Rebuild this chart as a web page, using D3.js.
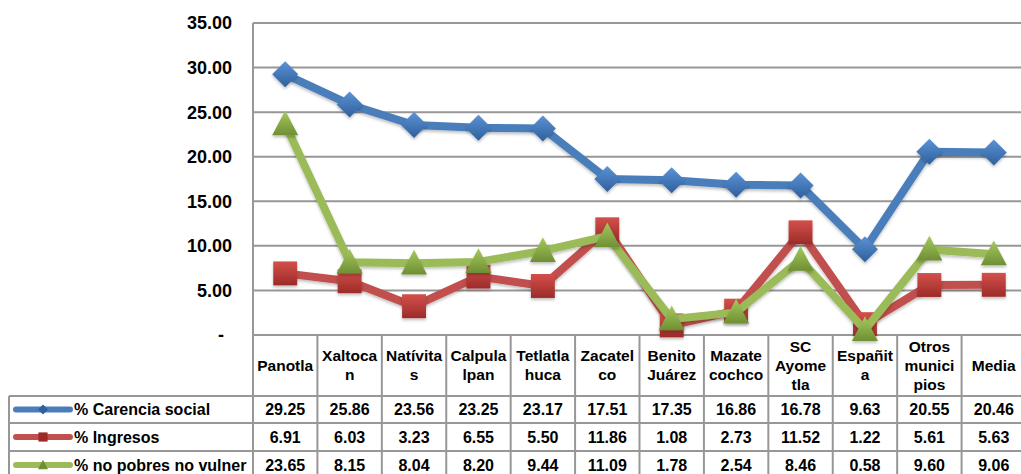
<!DOCTYPE html>
<html>
<head>
<meta charset="utf-8">
<script src="https://cdn.jsdelivr.net/npm/d3@7"></script>
<style>
  body { margin: 0; background: #fff; }
  svg text { font-family: "Liberation Sans", Arial, sans-serif; font-weight: bold; fill: #000; }
</style>
</head>
<body>
<svg width="1021" height="474"></svg>
<script>
// Data
const categories = ["Panotla", "Xaltocan", "Natívitas", "Calpulalpan", "Tetlatlahuca", "Zacatelco",
  "Benito Juárez", "Mazatecochco", "SC Ayometla", "Españita", "Otros municipios", "Media"];
// header lines as they wrap in the table
const categoryLines = [["Panotla"], ["Xaltoca", "n"], ["Natívita", "s"], ["Calpula", "lpan"],
  ["Tetlatla", "huca"], ["Zacatel", "co"], ["Benito", "Juárez"], ["Mazate", "cochco"],
  ["SC", "Ayome", "tla"], ["Españit", "a"], ["Otros", "munici", "pios"], ["Media"]];
const seriesNames = ["% Carencia social", "% Ingresos", "% no pobres no vulner"];
const carencia = [29.25, 25.86, 23.56, 23.25, 23.17, 17.51, 17.35, 16.86, 16.78, 9.63, 20.55, 20.46];
const ingresos = [6.91, 6.03, 3.23, 6.55, 5.50, 11.86, 1.08, 2.73, 11.52, 1.22, 5.61, 5.63];
const noPobres = [23.65, 8.15, 8.04, 8.20, 9.44, 11.09, 1.78, 2.54, 8.46, 0.58, 9.60, 9.06];
const yTicks = [0, 5, 10, 15, 20, 25, 30, 35];

const series = [
  { name: seriesNames[0], values: carencia, color: "#4a7ebb", light: "#5b93d6", dark: "#2f5f9c", shape: "diamond" },
  { name: seriesNames[1], values: ingresos, color: "#c0504d", light: "#d4504c", dark: "#9c2b28", shape: "square" },
  { name: seriesNames[2], values: noPobres, color: "#9bbb59", light: "#a6c95f", dark: "#6f8f33", shape: "triangle" }
];

const svg = d3.select("svg");
const defs = svg.append("defs");

// plot geometry
const plotLeft = 253, plotRight = 1026, plotTop = 23, plotBottom = 335;
const headerBottom = 396;
const rowEdges = [396, 423, 451, 479];

const x = d3.scaleBand().domain(categories).range([plotLeft, plotRight]).padding(0);
const y = d3.scaleLinear().domain([0, 35]).range([plotBottom, plotTop]);

const gridColor = "#979797";

// gridlines
svg.append("g")
  .selectAll("line")
  .data(yTicks)
  .join("line")
  .attr("x1", plotLeft).attr("x2", plotRight)
  .attr("y1", d => y(d)).attr("y2", d => y(d))
  .style("stroke", gridColor)
  .style("stroke-width", 2);

// y labels
svg.append("g")
  .selectAll("text")
  .data(yTicks)
  .join("text")
  .attr("x", d => d === 0 ? 224 : 232)
  .attr("y", d => y(d))
  .attr("dy", "0.36em")
  .attr("text-anchor", "end")
  .style("font-size", "18px")
  .text(d => d === 0 ? "-" : d3.format(".2f")(d));

// table lines
const table = svg.append("g").style("stroke", gridColor).style("stroke-width", 2);
// vertical column borders (from plot top through header and rows)
const colEdges = categories.map(c => x(c)).concat([plotRight]);
table.selectAll("line.col")
  .data(colEdges)
  .join("line")
  .attr("class", "col")
  .attr("x1", d => d).attr("x2", d => d)
  .attr("y1", (d, i) => i === 0 ? plotTop : plotBottom)
  .attr("y2", 480);
// horizontal row borders
table.selectAll("line.row")
  .data(rowEdges)
  .join("line")
  .attr("class", "row")
  .attr("x1", 9).attr("x2", plotRight)
  .attr("y1", d => d).attr("y2", d => d);
table.append("line")
  .attr("x1", 9).attr("x2", 9)
  .attr("y1", headerBottom).attr("y2", 480);

// header labels
const header = svg.append("g")
  .selectAll("text")
  .data(categories)
  .join("text")
  .attr("text-anchor", "middle")
  .style("font-size", "15.5px");
header.each(function(d, i) {
  const lines = categoryLines[i];
  const lh = 19;
  const cy = 365 - (lines.length - 1) * lh / 2;
  d3.select(this).selectAll("tspan")
    .data(lines)
    .join("tspan")
    .attr("x", x(d) + x.bandwidth() / 2)
    .attr("y", (l, j) => cy + j * lh)
    .attr("dy", "0.36em")
    .text(l => l);
});

// marker shapes
function markerPath(shape, s) {
  if (shape === "diamond") return `M0,${-s}L${s},0L0,${s}L${-s},0Z`;
  if (shape === "square") return `M${-s * 0.92},${-s * 0.92}H${s * 0.92}V${s * 0.92}H${-s * 0.92}Z`;
  return `M0,${-s * 1.05}L${s},${s * 0.85}H${-s}Z`;
}

series.forEach((s, k) => {
  const g = defs.append("linearGradient")
    .attr("id", "grad" + k)
    .attr("x1", 0).attr("y1", 0).attr("x2", 0).attr("y2", 1);
  g.append("stop").attr("offset", "0%").attr("stop-color", s.light);
  g.append("stop").attr("offset", "100%").attr("stop-color", s.dark);
});

const shadow = defs.append("filter").attr("id", "shadow")
  .attr("x", "-30%").attr("y", "-30%").attr("width", "160%").attr("height", "160%");
shadow.append("feDropShadow")
  .attr("dx", 0).attr("dy", 2).attr("stdDeviation", 1.5)
  .attr("flood-color", "#000").attr("flood-opacity", 0.25);

const line = d3.line()
  .x((d, i) => x(categories[i]) + x.bandwidth() / 2)
  .y(d => y(d));

// table rows: legend keys and values
series.forEach((s, k) => {
  const cy = (rowEdges[k] + rowEdges[k + 1]) / 2;
  svg.append("line")
    .attr("x1", 16).attr("x2", 70)
    .attr("y1", cy).attr("y2", cy)
    .style("stroke", s.color)
    .style("stroke-width", 6)
    .style("stroke-linecap", "round");
  svg.append("path")
    .attr("d", markerPath(s.shape, 5))
    .attr("transform", `translate(43,${cy})`)
    .attr("fill", s.dark);
  svg.append("text")
    .attr("x", 74).attr("y", cy).attr("dy", "0.36em")
    .style("font-size", "16px")
    .text(s.name);
  svg.append("g")
    .selectAll("text")
    .data(s.values)
    .join("text")
    .attr("x", (d, i) => x(categories[i]) + x.bandwidth() / 2)
    .attr("y", cy).attr("dy", "0.36em")
    .attr("text-anchor", "middle")
    .style("font-size", "16px")
    .text(d => d3.format(".2f")(d));
});

// series lines and markers (drawn over the table, as in the original)
series.forEach((s, k) => {
  const sg = svg.append("g");
  sg.append("path")
    .datum(s.values)
    .attr("d", line)
    .attr("fill", "none")
    .style("stroke", s.color)
    .style("stroke-width", 8)
    .style("stroke-linejoin", "round")
    .attr("filter", "url(#shadow)");
  sg.selectAll("path.mk")
    .data(s.values)
    .join("path")
    .attr("class", "mk")
    .attr("d", markerPath(s.shape, 13))
    .attr("transform", (d, i) => `translate(${x(categories[i]) + x.bandwidth() / 2},${y(d)})`)
    .attr("fill", `url(#grad${k})`)
    .attr("filter", "url(#shadow)");
});
</script>
</body>
</html>
